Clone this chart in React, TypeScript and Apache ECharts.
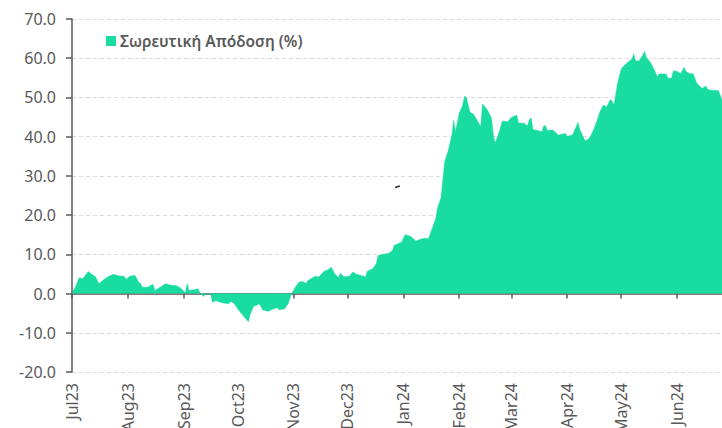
import React, { useEffect, useRef } from "react";
import * as echarts from "echarts";

const seriesName = "Σωρευτική Απόδοση (%)";

const dates: string[] = [
  "2023-07-01","2023-07-03","2023-07-05","2023-07-07","2023-07-10","2023-07-12","2023-07-14","2023-07-16","2023-07-18","2023-07-21",
  "2023-07-24","2023-07-27","2023-07-30","2023-07-31","2023-08-02","2023-08-05","2023-08-07","2023-08-08","2023-08-09","2023-08-12",
  "2023-08-15","2023-08-16","2023-08-19","2023-08-22","2023-08-25","2023-08-28","2023-08-30","2023-09-02","2023-09-03","2023-09-04",
  "2023-09-06","2023-09-09","2023-09-10","2023-09-12","2023-09-13","2023-09-16","2023-09-17","2023-09-19","2023-09-20","2023-09-23",
  "2023-09-26","2023-09-27","2023-09-29","2023-10-01","2023-10-04","2023-10-07","2023-10-08","2023-10-10","2023-10-11","2023-10-13",
  "2023-10-15","2023-10-18","2023-10-21","2023-10-23","2023-10-24","2023-10-27","2023-10-29","2023-10-31","2023-11-02","2023-11-04",
  "2023-11-06","2023-11-08","2023-11-09","2023-11-13","2023-11-15","2023-11-18","2023-11-20","2023-11-22","2023-11-24","2023-11-26",
  "2023-11-27","2023-11-29","2023-12-02","2023-12-04","2023-12-06","2023-12-10","2023-12-11","2023-12-12","2023-12-15","2023-12-17",
  "2023-12-18","2023-12-21","2023-12-24","2023-12-26","2023-12-27","2023-12-31","2024-01-02","2024-01-05","2024-01-07","2024-01-08",
  "2024-01-11","2024-01-13","2024-01-15","2024-01-17","2024-01-19","2024-01-20","2024-01-22","2024-01-24","2024-01-26","2024-01-28",
  "2024-01-29","2024-01-30","2024-02-01","2024-02-03","2024-02-04","2024-02-05","2024-02-07","2024-02-09","2024-02-11","2024-02-13",
  "2024-02-14","2024-02-15","2024-02-17","2024-02-19","2024-02-20","2024-02-21","2024-02-23","2024-02-25","2024-02-28","2024-03-01",
  "2024-03-04","2024-03-05","2024-03-08","2024-03-10","2024-03-11","2024-03-12","2024-03-13","2024-03-16","2024-03-18","2024-03-19",
  "2024-03-20","2024-03-21","2024-03-24","2024-03-27","2024-03-31","2024-04-01","2024-04-04","2024-04-07","2024-04-08","2024-04-11",
  "2024-04-13","2024-04-14","2024-04-16","2024-04-18","2024-04-19","2024-04-21","2024-04-23","2024-04-25","2024-04-26","2024-04-27",
  "2024-04-29","2024-05-01","2024-05-02","2024-05-05","2024-05-07","2024-05-08","2024-05-09","2024-05-11","2024-05-13","2024-05-14",
  "2024-05-15","2024-05-17","2024-05-18","2024-05-20","2024-05-21","2024-05-22","2024-05-26","2024-05-27","2024-05-29","2024-05-30",
  "2024-06-01","2024-06-03","2024-06-04","2024-06-05","2024-06-06","2024-06-08","2024-06-10","2024-06-12","2024-06-14","2024-06-15",
  "2024-06-17","2024-06-18","2024-06-21","2024-06-24","2024-06-25","2024-06-26",
];

const values: number[] = [
  0, 1.8, 4.0, 3.8, 5.6, 4.9, 4.3, 2.5, 3.3, 4.3,
  4.9, 4.5, 4.4, 3.6, 4.4, 4.6, 2.9, 2.6, 1.6, 1.6,
  2.4, 0.8, 1.6, 2.5, 2.1, 2.0, 1.5, 0.2, 2.5, 0.8,
  0.9, 1.2, 0.3, -0.8, 0, 0, -2.2, -1.8, -2.0, -2.4,
  -2.6, -2.0, -2.5, -3.9, -5.6, -7.2, -5.2, -3.1, -3.1, -2.6,
  -4.2, -4.5, -3.9, -3.6, -4.1, -3.9, -2.6, 0, 1.6, 2.9,
  3.1, 2.6, 3.3, 4.4, 4.2, 5.7, 6.0, 6.7, 5.0, 4.0,
  5.2, 4.3, 4.4, 5.5, 4.9, 4.4, 4.2, 5.7, 6.3, 7.6,
  9.7, 10.0, 10.3, 11.0, 12.3, 13.1, 15.0, 14.6, 13.8, 13.4,
  13.9, 14.1, 14.0, 16.5, 19.1, 21.8, 24.5, 33.7, 36.5, 40.4,
  44.2, 41.2, 45.9, 48.0, 50.3, 50.0, 46.3, 45.7, 44.2, 42.5,
  48.3, 47.8, 46.6, 44.6, 40.4, 38.4, 40.8, 44.0, 43.8, 44.9,
  45.5, 43.5, 43.4, 42.8, 44.3, 44.8, 41.8, 41.5, 41.2, 42.7,
  42.8, 41.6, 41.7, 40.4, 40.8, 40.1, 40.4, 43.6, 41.8, 38.9,
  39.5, 40.1, 42.1, 44.6, 46.1, 48.0, 47.6, 49.5, 49.0, 48.0,
  53.6, 57.2, 57.8, 59.1, 59.8, 61.1, 59.3, 59.3, 60.8, 61.7,
  60.2, 59.1, 58.3, 56.5, 55.3, 56.0, 56.0, 54.9, 54.9, 56.8,
  56.6, 56.1, 56.8, 57.7, 56.6, 56.1, 56.0, 53.6, 52.7, 52.3,
  52.9, 52.0, 51.8, 51.8, 50.6, 49.3,
];

const monthNames: string[] = ["Jan","Feb","Mar","Apr","May","Jun","Jul","Aug","Sep","Oct","Nov","Dec"];
const xMin = "2023-07-01";
const xMax = "2024-06-26";
const yMin = -20;
const yMax = 70;
const yStep = 10;

const GREEN = "#18dca0";
const AXIS = "#595959";
const TEXT = "#595959";
const FONT = "'Noto Sans', 'Open Sans', sans-serif";

export default function App() {
  const ref = useRef<HTMLDivElement>(null);
  useEffect(() => {
    if (!ref.current) return;
    const chart = echarts.init(ref.current, undefined, { renderer: "svg" });
    const DAY = 86400000;
    chart.setOption({
      animation: false,
      textStyle: { fontFamily: FONT },
      grid: { left: 72, right: 0, top: 19, bottom: 56, containLabel: false, outerBoundsMode: "none" },
      legend: {
        show: true,
        left: 106,
        top: 33,
        padding: 0,
        itemWidth: 10,
        itemHeight: 10,
        itemGap: 10,
        icon: "rect",
        textStyle: { fontFamily: FONT, fontSize: 15.5, fontWeight: 600, color: TEXT, padding: [0, 0, 0, -1] },
        data: [{ name: seriesName, itemStyle: { color: GREEN } }],
      },
      xAxis: {
        type: "time",
        min: xMin,
        max: xMax,
        splitNumber: 12,
        minInterval: 28 * DAY,
        maxInterval: 31 * DAY,
        axisLine: { onZero: true, lineStyle: { color: AXIS, width: 1.5 } },
        axisTick: { show: true, length: 5, lineStyle: { color: AXIS, width: 1.5 } },
        splitLine: { show: false },
        axisLabel: {
          rotate: 90,
          margin: 11,
          fontSize: 16,
          color: TEXT,
          fontFamily: FONT,
          showMaxLabel: false,
          hideOverlap: false,
          formatter: (v: number) => {
            const d = new Date(v);
            return monthNames[d.getMonth()] + String(d.getFullYear() % 100).padStart(2, "0");
          },
        },
      },
      yAxis: {
        type: "value",
        min: yMin,
        max: yMax,
        interval: yStep,
        axisLine: { show: true, lineStyle: { color: AXIS, width: 1.5 } },
        axisTick: { show: true, length: 6, lineStyle: { color: AXIS, width: 1.5 } },
        splitLine: { show: true, lineStyle: { color: "#d9d9d9", type: [4, 3], width: 1 } },
        axisLabel: {
          margin: 16,
          fontSize: 16,
          color: TEXT,
          fontFamily: FONT,
          formatter: (v: number) => v.toFixed(1),
        },
      },
      series: [
        {
          name: seriesName,
          type: "line",
          data: dates.map((d, i) => [d, values[i]]),
          symbol: "none",
          itemStyle: { color: GREEN },
          lineStyle: { color: GREEN, width: 0.5 },
          areaStyle: { color: GREEN, opacity: 1 },
          z: 1,
        },
      ],
      graphic: [
        {
          type: "line",
          shape: { x1: 395, y1: 187.5, x2: 400, y2: 186 },
          style: { stroke: "#333", lineWidth: 1.5 },
        },
      ],
    });
    return () => chart.dispose();
  }, []);
  return (
    <div
      ref={ref}
      style={{ position: "absolute", left: 0, top: 0, width: 722, height: 428, background: "#fff" }}
    />
  );
}
